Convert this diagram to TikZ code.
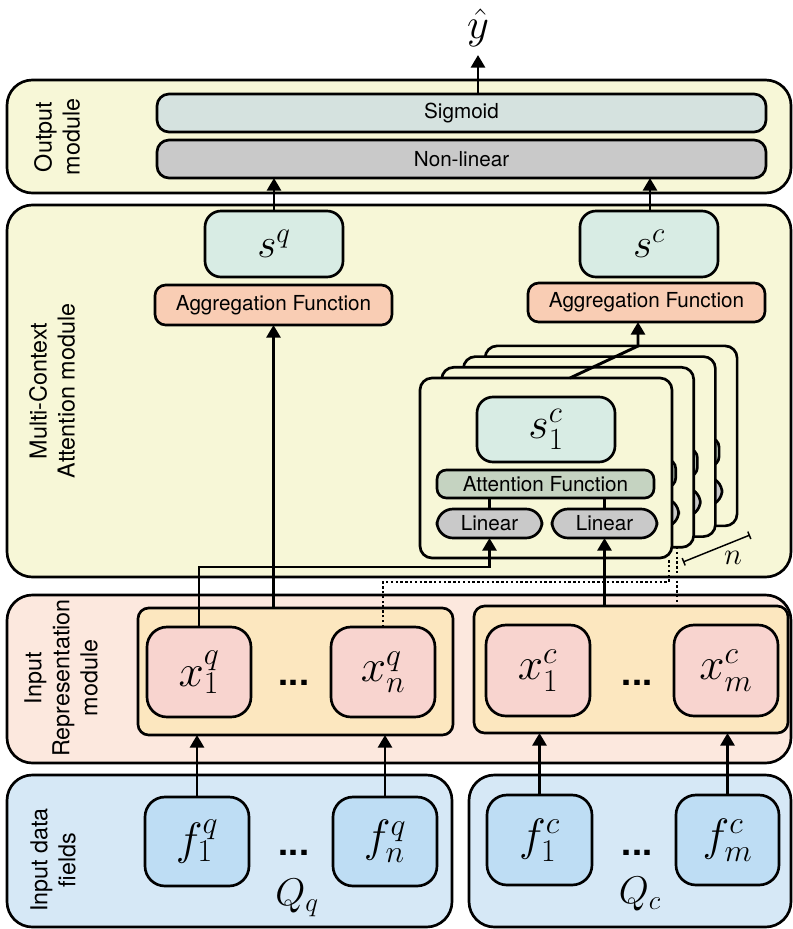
\RequirePackage{fix-cm}
\documentclass[tikz,border=0pt]{standalone}
\usepackage{fontspec}
\setsansfont{TeX Gyre Heros}
\usetikzlibrary{arrows.meta}
\definecolor{yel}{RGB}{247,247,215}
\definecolor{sigc}{RGB}{213,226,223}
\definecolor{gry}{RGB}{201,201,201}
\definecolor{mint}{RGB}{216,236,228}
\definecolor{peach}{RGB}{249,205,180}
\definecolor{attn}{RGB}{197,211,193}
\definecolor{salm}{RGB}{252,232,222}
\definecolor{grp}{RGB}{252,231,191}
\definecolor{pinkx}{RGB}{248,212,207}
\definecolor{lblue}{RGB}{214,232,246}
\definecolor{fblue}{RGB}{190,221,244}
\newcommand\mybox[7]{\node[#1, minimum width={0.75pt*((#5)-(#3))}, minimum height={0.75pt*((#6)-(#4))}] (#2) at ({((#3)+(#5))/2},{((#4)+(#6))/2}) {#7};}
\begin{document}
\begin{tikzpicture}[x=0.75pt,y=-0.75pt,
  bx/.style={draw=black, line width=2pt, inner sep=0pt, outer sep=0pt},
  module/.style={bx, rounded corners=19pt},
  lab/.style={font=\sffamily\fontsize{15.5}{18}\selectfont},
  side/.style={rotate=90, align=center, font=\sffamily\fontsize{17.5}{21}\selectfont},
  barbox/.style={bx, rounded corners=9pt, lab},
  sbox/.style={bx, rounded corners=12pt, fill=mint, font=\fontsize{31}{36}\selectfont},
  agg/.style={bx, rounded corners=8pt, fill=peach, lab},
  card/.style={bx, rounded corners=9pt, fill=yel},
  attbox/.style={bx, rounded corners=7pt, fill=attn, lab},
  linbox/.style={bx, rounded corners=12pt, fill=gry, lab},
  grpbox/.style={bx, rounded corners=8pt, fill=grp},
  xbox/.style={bx, rounded corners=15pt, fill=pinkx, font=\fontsize{34}{40}\selectfont},
  fbox/.style={bx, rounded corners=15pt, fill=fblue, font=\fontsize{34}{40}\selectfont},
  dotsl/.style={font=\sffamily\bfseries\fontsize{27}{30}\selectfont, anchor=base, inner sep=0pt},
  arr/.style={line width=2.2pt, -{Triangle[width=10.5pt,length=9.5pt]}},
  conn/.style={line width=2pt},
  dotl/.style={line width=1.8pt, dash pattern=on 1.8pt off 1.8pt},
]
\useasboundingbox (0,0) rectangle (793,929);

% ---------- Output module ----------
\mybox{module, fill=yel}{outm}{7}{80}{791}{193}{}
\mybox{barbox, fill=sigc}{sig}{157}{94}{766}{132}{Sigmoid}
\mybox{barbox, fill=gry}{nl}{157}{140}{766}{178}{Non-linear}
\node[side] (lo) at (57,137) {Output\\module};
\node[font=\fontsize{32}{38}\selectfont, inner sep=0pt] (yhat) at (478,28) {$\hat{y}$};
\coordinate (ytip) at (478,55);

% ---------- Multi-Context Attention module ----------
\mybox{module, fill=yel}{mca}{7}{205}{791}{577}{}
\node[side] (lm) at (52,391) {Multi-Context\\Attention module};
\mybox{sbox}{sq}{205}{211}{343}{277}{$s^q$}
\mybox{agg}{aggq}{155}{285}{392}{325}{Aggregation Function}
\mybox{sbox}{sc}{580}{211}{718}{277}{$s^c$}
\mybox{agg}{aggc}{528}{283}{765}{322}{Aggregation Function}

% stacked attention cards (back ones)
\foreach \k in {3,2,1}{
  \pgfmathsetmacro\xa{420+21.7*\k}
  \pgfmathsetmacro\ya{378-10.7*\k}
  \mybox{card}{card\k}{\xa}{\ya}{\xa+252}{\ya+180}{}
  \mybox{attbox}{att\k}{\xa+17}{\ya+92}{\xa+234}{\ya+120}{}
  \mybox{linbox}{lina\k}{\xa+17}{\ya+131}{\xa+122}{\ya+160}{}
  \mybox{linbox}{linb\k}{\xa+132}{\ya+131}{\xa+237}{\ya+160}{}
}
% front card
\mybox{card}{card0}{420}{378}{672}{558}{}
\mybox{sbox, font=\fontsize{33}{38}\selectfont}{sc1}{477}{397}{615}{462}{$s^c_1$}
\mybox{attbox}{att0}{437}{470}{654}{498}{Attention Function}
\mybox{linbox}{lin1}{437}{509}{542}{538}{Linear}
\mybox{linbox}{lin2}{552}{509}{657}{538}{Linear}
\draw[conn, line width=1.7pt] (lin1.north) -- (lin1.north |- att0.south);
\draw[conn, line width=1.7pt] (lin2.north) -- (lin2.north |- att0.south);

% ---------- Input Representation module ----------
\mybox{module, fill=salm}{irm}{7}{595}{791}{763}{}
\node[side] (lr) at (61,678) {Input\\Representation\\module};
\mybox{grpbox}{gq}{138}{608}{453}{735}{}
\mybox{grpbox}{gc}{474}{606}{788}{733}{}
\mybox{xbox}{xq1}{147}{627}{251}{717}{$x^q_1$}
\mybox{xbox}{xqn}{331}{627}{435}{717}{$x^q_n$}
\mybox{xbox}{xc1}{486}{625}{590}{716}{$x^c_1$}
\mybox{xbox}{xcm}{674}{625}{778}{716}{$x^c_m$}
\node[dotsl] (dq1) at (294,685) {...};
\node[dotsl] (dc1) at (637,685) {...};

% ---------- Input data fields ----------
\mybox{module, fill=lblue}{idq}{7}{775}{452}{927}{}
\mybox{module, fill=lblue}{idc}{469}{775}{791}{927}{}
\node[side] (ld) at (53,860) {Input data\\fields};
\mybox{fbox}{fq1}{145}{797}{249}{886}{$f^q_1$}
\mybox{fbox}{fqn}{333}{797}{437}{886}{$f^q_n$}
\mybox{fbox}{fc1}{487}{795}{592}{885}{$f^c_1$}
\mybox{fbox}{fcm}{676}{795}{779}{885}{$f^c_m$}
\node[dotsl] (dq2) at (294,855) {...};
\node[dotsl] (dc2) at (637,855) {...};
\node[font=\fontsize{29}{34}\selectfont, inner sep=0pt] (Qq) at (297,898) {$Q_q$};
\node[font=\fontsize{29}{34}\selectfont, inner sep=0pt] (Qc) at (640,894) {$Q_c$};

% ---------- connectors ----------
\draw[arr] (ytip |- sig.north) -- (ytip);
\draw[arr] (sq.north) -- (sq.north |- nl.south);
\coordinate (scx) at (650,0);
\draw[arr] (scx |- sc.north) -- (scx |- nl.south);
\draw[arr] (aggq.south |- gq.north) -- (aggq.south);
\coordinate (ctop) at (570,378);
\coordinate (bend) at (638,346);
\draw[arr] (ctop) -- (bend) -- (bend |- aggc.south);
\draw[arr] (xq1.north) -- ++(0,-60) -| (lin1.south);
\draw[arr] (lin2.south |- gc.north) -- (lin2.south);
\coordinate (d1) at (669,582);
\draw[dotl] (xqn.north) |- (d1) -- (d1 |- card0.south);
\coordinate (d2) at (677,547);
\draw[dotl] (d2) -- (d2 |- gc.north);
\coordinate (n1) at (683,562);
\coordinate (n2) at (750,535);
\draw[line width=1.1pt, {Bar[width=6pt]}-{Bar[width=6pt]}] (n1) -- (n2);
\node[font=\fontsize{23}{26}\selectfont, inner sep=0pt] (nlab) at (733,558) {$n$};

\draw[arr] (fq1.north) -- (fq1.north |- gq.south);
\draw[arr] (fqn.north) -- (fqn.north |- gq.south);
\draw[arr] (fc1.north) -- (fc1.north |- gc.south);
\draw[arr] (fcm.north) -- (fcm.north |- gc.south);
\end{tikzpicture}
\end{document}
